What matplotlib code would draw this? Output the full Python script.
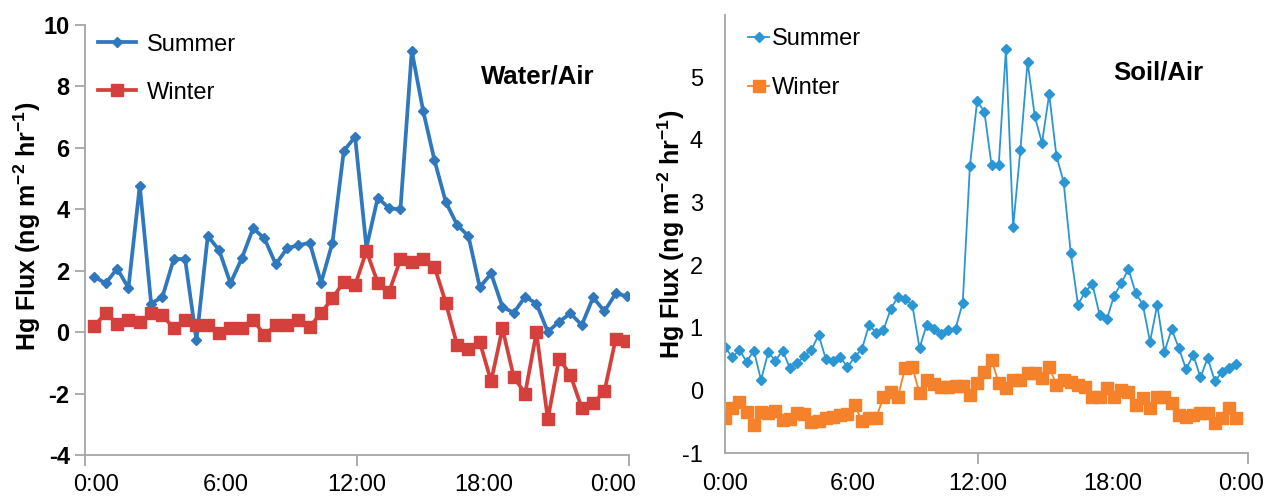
import numpy as np
import matplotlib.pyplot as plt

plt.rcParams['font.family'] = ['Liberation Sans', 'DejaVu Sans']
plt.rcParams['axes.unicode_minus'] = False
plt.rcParams['mathtext.fontset'] = 'custom'
plt.rcParams['mathtext.rm'] = 'Liberation Sans'
plt.rcParams['mathtext.bf'] = 'Liberation Sans:bold'

# Water/Air: one reading every 30 min, first at 0:25
water_start_h = 25 / 60
water_step_h = 0.5
water_summer = [1.80, 1.59, 2.07, 1.44, 4.77, 0.93, 1.15, 2.38, 2.38, -0.26, 3.13, 2.67,
                1.59, 2.40, 3.38, 3.05, 2.21, 2.73, 2.83, 2.91, 1.61, 2.91, 5.90, 6.36,
                2.75, 4.38, 4.03, 4.00, 9.16, 7.21, 5.60, 4.24, 3.49, 3.13, 1.46, 1.91,
                0.82, 0.63, 1.15, 0.93, 0.01, 0.34, 0.61, 0.23, 1.13, 0.68, 1.26, 1.17]
water_winter = [0.20, 0.63, 0.28, 0.39, 0.32, 0.61, 0.55, 0.12, 0.39, 0.23, 0.23, -0.04,
                0.12, 0.12, 0.41, -0.10, 0.23, 0.23, 0.39, 0.17, 0.63, 1.10, 1.64, 1.53,
                2.64, 1.61, 1.31, 2.37, 2.29, 2.37, 2.13, 0.96, -0.42, -0.56, -0.32, -1.60,
                0.12, -1.46, -2.00, -0.01, -2.84, -0.86, -1.40, -2.47, -2.32, -1.92, -0.21, -0.28]

# Soil/Air: one reading every 20 min from 0:00
soil_start_h = 0.0
soil_step_h = 1 / 3
soil_summer = [0.70, 0.53, 0.65, 0.46, 0.64, 0.17, 0.61, 0.48, 0.64, 0.36, 0.44, 0.55,
               0.65, 0.89, 0.50, 0.48, 0.54, 0.37, 0.54, 0.66, 1.05, 0.92, 0.97, 1.30,
               1.50, 1.46, 1.37, 0.68, 1.05, 0.99, 0.90, 0.97, 0.99, 1.40, 3.59, 4.62,
               4.45, 3.60, 3.60, 5.45, 2.61, 3.84, 5.25, 4.38, 3.95, 4.73, 3.75, 3.33,
               2.19, 1.37, 1.58, 1.70, 1.21, 1.14, 1.51, 1.71, 1.94, 1.56, 1.37, 0.78,
               1.37, 0.62, 0.98, 0.68, 0.34, 0.57, 0.21, 0.52, 0.15, 0.30, 0.36, 0.42]
soil_winter = [-0.44, -0.28, -0.18, -0.34, -0.55, -0.34, -0.36, -0.32, -0.47, -0.46, -0.36, -0.37,
               -0.50, -0.48, -0.44, -0.42, -0.39, -0.37, -0.23, -0.48, -0.43, -0.43, -0.10, -0.02,
               -0.10, 0.36, 0.38, -0.04, 0.17, 0.11, 0.06, 0.06, 0.07, 0.08, -0.07, 0.12,
               0.30, 0.49, 0.12, 0.04, 0.17, 0.17, 0.28, 0.28, 0.20, 0.38, 0.09, 0.17,
               0.13, 0.09, 0.06, -0.10, -0.10, 0.04, -0.10, 0.01, -0.02, -0.23, -0.12, -0.28,
               -0.10, -0.10, -0.20, -0.39, -0.42, -0.39, -0.36, -0.36, -0.52, -0.44, -0.28, -0.44]

time_labels = ['0:00', '6:00', '12:00', '18:00', '0:00']

AXIS_GREY = '#a6a6a6'
YLABEL = 'Hg Flux (ng m$^{%s}$ hr$^{%s}$)'


def hours(start, step, values):
    return start + step * np.arange(len(values))


def style_axes(ax, tick_hours, label_hours, xmax):
    for side in ['top', 'right']:
        ax.spines[side].set_visible(False)
    for side in ['left', 'bottom']:
        ax.spines[side].set_color(AXIS_GREY)
        ax.spines[side].set_linewidth(1.3)
    ax.set_xlim(0, xmax)
    ax.xaxis.remove_overlapping_locs = False
    ax.set_xticks(tick_hours, [''] * len(tick_hours))
    ax.set_xticks(label_hours, time_labels, minor=True)
    ax.tick_params(axis='x', which='major', length=8, width=1.3, color=AXIS_GREY)
    ax.tick_params(axis='x', which='minor', length=0, pad=14, labelsize=17)


fig = plt.figure(figsize=(12.67, 4.96), dpi=100)

# ---- Water/Air ----
ax1 = fig.add_axes([85 / 1267, 41 / 496, 544 / 1267, 430 / 496])
t_w = hours(water_start_h, water_step_h, water_summer)
ax1.plot(t_w, water_summer, color='#2f78bd', lw=2.7, marker='D', ms=5, label='Summer')
ax1.plot(t_w, water_winter, color='#d6403c', lw=2.7, marker='s', ms=8, label='Winter')
style_axes(ax1, [0, 12, 24], [0.5, 6.2, 12.0, 17.6, 23.3], 24)
ax1.set_ylim(-4, 10)
ax1.set_yticks(range(-4, 11, 2))
ax1.tick_params(axis='y', length=7, width=1.3, color=AXIS_GREY, pad=4, labelsize=17)
for lab in ax1.get_yticklabels():
    lab.set_fontweight('bold')
ax1.set_ylabel(YLABEL % (r'\mathbf{-2}', r'\mathbf{-1}'), fontsize=18, fontweight='bold')
ax1.yaxis.set_label_coords(-0.078, 0.533)
ax1.text(0.832, 0.88, 'Water/Air', transform=ax1.transAxes, ha='center', va='center',
         fontsize=18.5, fontweight='bold')
ax1.legend(loc='upper left', bbox_to_anchor=(0.024, 0.98), frameon=False, fontsize=17,
           handlelength=1.6, handletextpad=0.45, labelspacing=1.1, borderpad=0, borderaxespad=0)

# ---- Soil/Air ----
ax2 = fig.add_axes([725 / 1267, 42.7 / 496, 523 / 1267, 438.7 / 496])
t_s = hours(soil_start_h, soil_step_h, soil_summer)
ax2.plot(t_s, soil_summer, color='#2a96d4', lw=1.3, marker='D', ms=5.5, label='Summer')
ax2.plot(t_s, soil_winter, color='#f5822a', lw=1.3, marker='s', ms=8.5, label='Winter')
style_axes(ax2, [11.7, 24.2], [0, 5.9, 11.7, 17.95, 23.9], 24.2)
ax2.set_ylim(-1, 6)
ax2.set_yticks(range(-1, 6))
ax2.tick_params(axis='y', length=0, pad=16, labelsize=17)
ax2.set_ylabel(YLABEL % (r'\mathbf{-2}', r'\mathbf{-1}'), fontsize=18, fontweight='bold')
ax2.yaxis.set_label_coords(-0.072, 0.5)
ax2.text(0.828, 0.869, 'Soil/Air', transform=ax2.transAxes, ha='center', va='center',
         fontsize=18.5, fontweight='bold')
ax2.legend(loc='upper left', bbox_to_anchor=(0.044, 0.969), frameon=False, fontsize=17,
           handlelength=0.9, handletextpad=0.1, labelspacing=1.15, borderpad=0, borderaxespad=0)

fig.savefig('out.png', dpi=100)
